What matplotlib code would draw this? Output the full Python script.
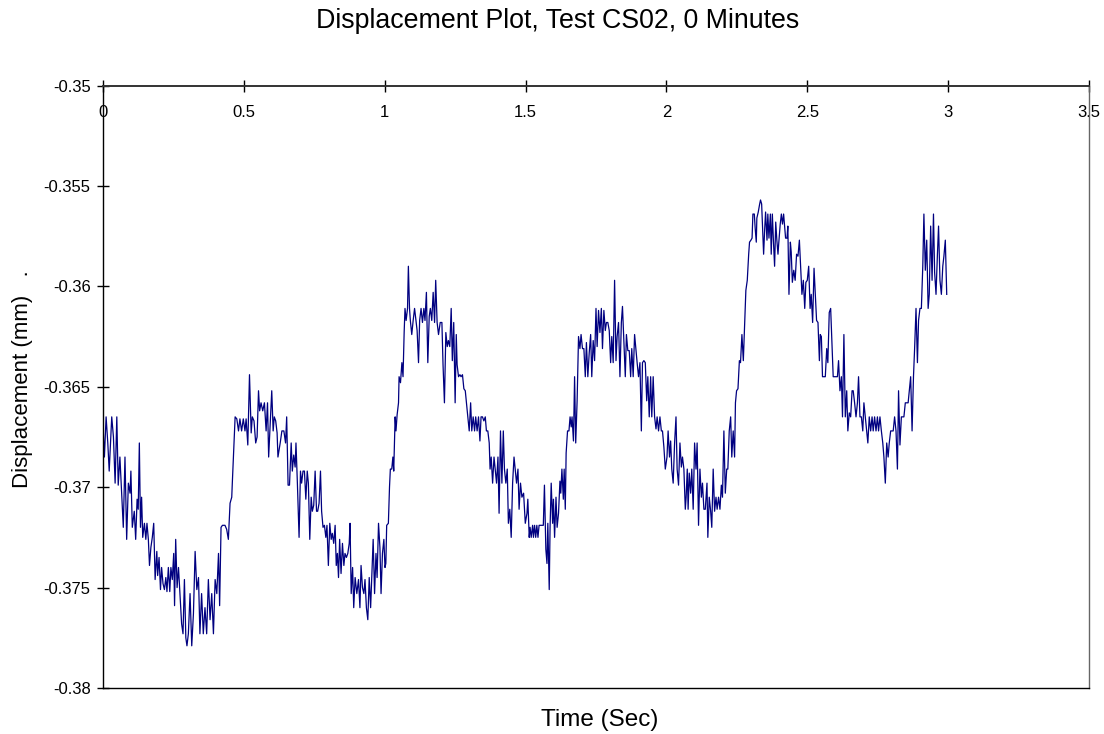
import matplotlib
matplotlib.use("Agg")
import matplotlib.pyplot as plt
from matplotlib.ticker import FuncFormatter, MultipleLocator

plt.rcParams["font.family"] = ["Liberation Sans", "DejaVu Sans"]

# displacement trace, test CS02 at 0 minutes
time_s = [
    0.001, 0.005, 0.011, 0.017, 0.022, 0.031, 0.037, 0.043, 0.049, 0.054,
    0.060, 0.066, 0.072, 0.078, 0.084, 0.090, 0.096, 0.099, 0.104, 0.111,
    0.116, 0.121, 0.125, 0.129, 0.133, 0.137, 0.141, 0.147, 0.152, 0.156,
    0.161, 0.165, 0.170, 0.175, 0.180, 0.185, 0.191, 0.194, 0.199, 0.204,
    0.208, 0.213, 0.218, 0.223, 0.227, 0.232, 0.237, 0.241, 0.246, 0.251,
    0.254, 0.258, 0.263, 0.268, 0.273, 0.279, 0.284, 0.289, 0.294, 0.298,
    0.303, 0.309, 0.315, 0.321, 0.327, 0.333, 0.339, 0.344, 0.350, 0.356,
    0.362, 0.368, 0.374, 0.380, 0.386, 0.392, 0.398, 0.404, 0.410, 0.414,
    0.419, 0.424, 0.433, 0.439, 0.445, 0.451, 0.457, 0.459, 0.466, 0.469,
    0.475, 0.481, 0.486, 0.492, 0.498, 0.504,
    0.508, 0.514, 0.520, 0.526, 0.530, 0.536, 0.542, 0.547, 0.552, 0.556,
    0.561, 0.567, 0.573, 0.579, 0.584, 0.588, 0.594, 0.599, 0.604, 0.608,
    0.613, 0.618, 0.621, 0.629, 0.635, 0.642, 0.648, 0.652, 0.657, 0.662,
    0.668, 0.672, 0.677, 0.682, 0.685, 0.690, 0.696, 0.701, 0.705, 0.710,
    0.715, 0.720, 0.725, 0.729, 0.734, 0.739, 0.743, 0.748, 0.753, 0.758,
    0.762, 0.767, 0.772, 0.776, 0.781, 0.786, 0.791, 0.795, 0.800, 0.805,
    0.810, 0.814, 0.819, 0.824, 0.828, 0.832, 0.836, 0.840, 0.845, 0.850,
    0.855, 0.859, 0.864, 0.869, 0.874, 0.877, 0.881, 0.886, 0.890, 0.895,
    0.901, 0.907, 0.912, 0.916, 0.921, 0.926, 0.930, 0.935, 0.940, 0.945,
    0.950, 0.954, 0.959, 0.964, 0.969, 0.973, 0.978, 0.983, 0.987, 0.992,
    0.997, 1.001,
    1.004, 1.007, 1.013, 1.017, 1.020, 1.025, 1.029, 1.032, 1.037, 1.040,
    1.044, 1.049, 1.051, 1.056, 1.061, 1.065, 1.069, 1.072, 1.076, 1.081,
    1.084, 1.088, 1.091, 1.096, 1.101, 1.106, 1.110, 1.115, 1.120, 1.124,
    1.129, 1.134, 1.139, 1.143, 1.148, 1.153, 1.158, 1.162, 1.167, 1.172,
    1.177, 1.181, 1.186, 1.191, 1.197, 1.203, 1.207, 1.212, 1.217, 1.222,
    1.226, 1.231, 1.236, 1.240, 1.245, 1.250, 1.254, 1.257, 1.262, 1.267,
    1.271, 1.276, 1.281, 1.286, 1.290, 1.295, 1.300, 1.305, 1.309, 1.314,
    1.319, 1.323, 1.328, 1.333, 1.338, 1.342, 1.347, 1.352, 1.357, 1.361,
    1.366, 1.371, 1.374, 1.378, 1.383, 1.388, 1.392, 1.397, 1.402, 1.406,
    1.411, 1.416, 1.421, 1.425, 1.430, 1.435, 1.439, 1.444, 1.449, 1.454,
    1.459, 1.463, 1.468, 1.473, 1.477, 1.482, 1.487, 1.493, 1.499,
    1.505, 1.508, 1.513, 1.516, 1.520, 1.525, 1.528, 1.532, 1.536, 1.540,
    1.544, 1.548, 1.553, 1.558, 1.563, 1.567, 1.572, 1.576, 1.579, 1.584,
    1.587, 1.591, 1.596, 1.599, 1.603, 1.608, 1.612, 1.617, 1.622, 1.625,
    1.629, 1.634, 1.637, 1.641, 1.644, 1.649, 1.654, 1.658, 1.662, 1.665,
    1.670, 1.674, 1.678, 1.683, 1.688, 1.693, 1.697, 1.702, 1.707, 1.712,
    1.716, 1.721, 1.726, 1.731, 1.735, 1.740, 1.745, 1.750, 1.754, 1.759,
    1.764, 1.769, 1.773, 1.778, 1.783, 1.787, 1.792, 1.797, 1.802, 1.806,
    1.811, 1.816, 1.821, 1.825, 1.830, 1.835, 1.840, 1.844, 1.849, 1.854,
    1.858, 1.863, 1.868, 1.873, 1.877, 1.882, 1.887, 1.892, 1.896, 1.901,
    1.906, 1.911, 1.915, 1.920, 1.925, 1.930, 1.934, 1.939, 1.944, 1.948,
    1.953, 1.958, 1.963, 1.967, 1.972, 1.977, 1.982, 1.986, 1.991, 1.996,
    2.002, 2.006, 2.011, 2.015, 2.019, 2.024, 2.029, 2.034, 2.038, 2.043,
    2.048, 2.053, 2.057, 2.062, 2.067, 2.070, 2.074, 2.077, 2.081, 2.086,
    2.090, 2.095, 2.100, 2.105, 2.109, 2.114, 2.119, 2.124, 2.128, 2.133,
    2.138, 2.144, 2.147, 2.152, 2.157, 2.161, 2.166, 2.171, 2.176, 2.180,
    2.185, 2.190, 2.195, 2.199, 2.204, 2.209, 2.214, 2.218, 2.223, 2.228,
    2.232, 2.237, 2.242, 2.245, 2.249, 2.254, 2.259, 2.263, 2.268, 2.273,
    2.278, 2.282, 2.287,
    2.292, 2.295, 2.300, 2.304, 2.307, 2.312, 2.315, 2.319, 2.321, 2.326,
    2.331, 2.334, 2.338, 2.341, 2.345, 2.349, 2.352, 2.357, 2.360, 2.364,
    2.369, 2.372, 2.376, 2.380, 2.384, 2.388, 2.392, 2.396, 2.399, 2.404,
    2.408, 2.412, 2.416, 2.420, 2.423, 2.428, 2.431, 2.435, 2.440, 2.443,
    2.447, 2.452,
    2.457, 2.462, 2.467, 2.472, 2.476, 2.481, 2.486, 2.491, 2.495, 2.500,
    2.505, 2.510, 2.514, 2.519, 2.524, 2.528, 2.533, 2.538, 2.543, 2.546,
    2.550, 2.554, 2.559, 2.564, 2.569, 2.573, 2.578, 2.583, 2.588, 2.592,
    2.597, 2.602, 2.607, 2.611, 2.616, 2.621, 2.625, 2.630, 2.635, 2.640,
    2.644, 2.649, 2.654, 2.659, 2.663, 2.668, 2.673, 2.678, 2.682, 2.687,
    2.692, 2.697, 2.701, 2.706, 2.711, 2.715, 2.720, 2.725, 2.730, 2.734,
    2.739, 2.744, 2.749, 2.753, 2.758, 2.763, 2.768, 2.772, 2.777, 2.782,
    2.787, 2.791, 2.796, 2.801, 2.805, 2.810, 2.815, 2.820, 2.824, 2.829,
    2.834, 2.839, 2.843, 2.848, 2.853, 2.858, 2.862, 2.867, 2.872, 2.877,
    2.881, 2.886, 2.891, 2.895, 2.900, 2.905, 2.910, 2.914, 2.919, 2.924,
    2.929, 2.933, 2.938, 2.943, 2.948, 2.952, 2.957, 2.962, 2.966, 2.971,
    2.976, 2.981, 2.985, 2.990, 2.995,
]

disp_mm = [
    -0.3672, -0.3685, -0.3665, -0.3678, -0.3692, -0.3665, -0.3675, -0.3698, -0.3665, -0.3699,
    -0.3685, -0.3703, -0.3720, -0.3685, -0.3726, -0.3698, -0.3703, -0.3692, -0.3720, -0.3712,
    -0.3726, -0.3706, -0.3711, -0.3678, -0.3720, -0.3705, -0.3725, -0.3718, -0.3726, -0.3718,
    -0.3726, -0.3739, -0.3730, -0.3725, -0.3718, -0.3746, -0.3732, -0.3744, -0.3735, -0.3751,
    -0.3740, -0.3748, -0.3751, -0.3745, -0.3752, -0.3740, -0.3752, -0.3740, -0.3746, -0.3733,
    -0.3759, -0.3726, -0.3750, -0.3740, -0.3753, -0.3768, -0.3773, -0.3746, -0.3775, -0.3779,
    -0.3773, -0.3753, -0.3779, -0.3763, -0.3732, -0.3751, -0.3745, -0.3773, -0.3753, -0.3773,
    -0.3760, -0.3773, -0.3746, -0.3766, -0.3753, -0.3773, -0.3746, -0.3753, -0.3733, -0.3759,
    -0.3720, -0.3719, -0.3719, -0.3721, -0.3726, -0.3708, -0.3705, -0.3698, -0.3675, -0.3665,
    -0.3666, -0.3672, -0.3666, -0.3672, -0.3666, -0.3672,
    -0.3666, -0.3679, -0.3644, -0.3673, -0.3665, -0.3667, -0.3678, -0.3675, -0.3652, -0.3662,
    -0.3658, -0.3662, -0.3658, -0.3672, -0.3658, -0.3685, -0.3667, -0.3652, -0.3672, -0.3665,
    -0.3667, -0.3673, -0.3685, -0.3678, -0.3672, -0.3672, -0.3678, -0.3665, -0.3699, -0.3699,
    -0.3678, -0.3692, -0.3684, -0.3690, -0.3678, -0.3698, -0.3725, -0.3692, -0.3698, -0.3692,
    -0.3692, -0.3706, -0.3692, -0.3698, -0.3726, -0.3705, -0.3712, -0.3709, -0.3692, -0.3712,
    -0.3712, -0.3708, -0.3692, -0.3712, -0.3720, -0.3719, -0.3725, -0.3719, -0.3739, -0.3718,
    -0.3726, -0.3723, -0.3728, -0.3719, -0.3739, -0.3733, -0.3745, -0.3726, -0.3743, -0.3728,
    -0.3739, -0.3733, -0.3735, -0.3733, -0.3728, -0.3718, -0.3753, -0.3740, -0.3760, -0.3745,
    -0.3753, -0.3746, -0.3760, -0.3739, -0.3750, -0.3753, -0.3746, -0.3760, -0.3766, -0.3745,
    -0.3760, -0.3745, -0.3726, -0.3753, -0.3733, -0.3745, -0.3718, -0.3730, -0.3753, -0.3733,
    -0.3726, -0.3740,
    -0.3738, -0.3719, -0.3718, -0.3700, -0.3691, -0.3691, -0.3685, -0.3692, -0.3665, -0.3672,
    -0.3664, -0.3658, -0.3645, -0.3648, -0.3638, -0.3645, -0.3623, -0.3611, -0.3617, -0.3611,
    -0.3590, -0.3611, -0.3617, -0.3624, -0.3617, -0.3611, -0.3616, -0.3622, -0.3638, -0.3617,
    -0.3611, -0.3618, -0.3611, -0.3617, -0.3603, -0.3638, -0.3615, -0.3611, -0.3617, -0.3603,
    -0.3618, -0.3597, -0.3618, -0.3624, -0.3618, -0.3618, -0.3639, -0.3658, -0.3623, -0.3630,
    -0.3627, -0.3630, -0.3611, -0.3637, -0.3618, -0.3658, -0.3624, -0.3639, -0.3645, -0.3644,
    -0.3645, -0.3644, -0.3651, -0.3652, -0.3658, -0.3665, -0.3672, -0.3658, -0.3672, -0.3665,
    -0.3672, -0.3665, -0.3672, -0.3665, -0.3677, -0.3665, -0.3665, -0.3667, -0.3665, -0.3672,
    -0.3672, -0.3678, -0.3691, -0.3685, -0.3698, -0.3685, -0.3691, -0.3698, -0.3685, -0.3713,
    -0.3672, -0.3698, -0.3672, -0.3691, -0.3698, -0.3691, -0.3718, -0.3711, -0.3725, -0.3698,
    -0.3685, -0.3691, -0.3698, -0.3691, -0.3711, -0.3698, -0.3705, -0.3703, -0.3718,
    -0.3713, -0.3706, -0.3725, -0.3720, -0.3725, -0.3719, -0.3725, -0.3719, -0.3725, -0.3719,
    -0.3725, -0.3719, -0.3719, -0.3719, -0.3719, -0.3699, -0.3731, -0.3738, -0.3718, -0.3751,
    -0.3720, -0.3698, -0.3718, -0.3706, -0.3725, -0.3705, -0.3720, -0.3713, -0.3697, -0.3703,
    -0.3691, -0.3706, -0.3691, -0.3711, -0.3683, -0.3672, -0.3672, -0.3665, -0.3670, -0.3665,
    -0.3677, -0.3645, -0.3678, -0.3657, -0.3625, -0.3631, -0.3624, -0.3631, -0.3631, -0.3645,
    -0.3628, -0.3645, -0.3633, -0.3624, -0.3645, -0.3627, -0.3637, -0.3611, -0.3630, -0.3612,
    -0.3623, -0.3611, -0.3631, -0.3612, -0.3622, -0.3618, -0.3618, -0.3622, -0.3638, -0.3625,
    -0.3638, -0.3597, -0.3637, -0.3625, -0.3618, -0.3645, -0.3618, -0.3610, -0.3628, -0.3645,
    -0.3624, -0.3632, -0.3632, -0.3645, -0.3631, -0.3645, -0.3624, -0.3632, -0.3638, -0.3645,
    -0.3638, -0.3672, -0.3638, -0.3637, -0.3638, -0.3657, -0.3645, -0.3665, -0.3645, -0.3665,
    -0.3645, -0.3665, -0.3671, -0.3665, -0.3672, -0.3665, -0.3672, -0.3672, -0.3680, -0.3691,
    -0.3685, -0.3672, -0.3685, -0.3677, -0.3691, -0.3698, -0.3678, -0.3665, -0.3691, -0.3699,
    -0.3678, -0.3690, -0.3685, -0.3691, -0.3711, -0.3705, -0.3691, -0.3711, -0.3693, -0.3703,
    -0.3691, -0.3711, -0.3678, -0.3691, -0.3678, -0.3719, -0.3691, -0.3705, -0.3698, -0.3711,
    -0.3711, -0.3698, -0.3725, -0.3705, -0.3712, -0.3720, -0.3691, -0.3712, -0.3705, -0.3711,
    -0.3705, -0.3711, -0.3699, -0.3705, -0.3672, -0.3703, -0.3691, -0.3691, -0.3672, -0.3665,
    -0.3685, -0.3672, -0.3685, -0.3658, -0.3652, -0.3651, -0.3637, -0.3638, -0.3624, -0.3637,
    -0.3618, -0.3602, -0.3597,
    -0.3584, -0.3578, -0.3577, -0.3576, -0.3564, -0.3564, -0.3571, -0.3578, -0.3566, -0.3563,
    -0.3559, -0.3557, -0.3559, -0.3570, -0.3584, -0.3571, -0.3563, -0.3577, -0.3564, -0.3576,
    -0.3564, -0.3584, -0.3564, -0.3578, -0.3590, -0.3568, -0.3577, -0.3584, -0.3578, -0.3569,
    -0.3564, -0.3569, -0.3564, -0.3571, -0.3576, -0.3576, -0.3570, -0.3604, -0.3578, -0.3583,
    -0.3598, -0.3592,
    -0.3597, -0.3584, -0.3585, -0.3577, -0.3589, -0.3604, -0.3597, -0.3611, -0.3598, -0.3597,
    -0.3590, -0.3611, -0.3604, -0.3618, -0.3591, -0.3603, -0.3617, -0.3618, -0.3637, -0.3624,
    -0.3625, -0.3645, -0.3645, -0.3645, -0.3631, -0.3638, -0.3613, -0.3611, -0.3630, -0.3645,
    -0.3645, -0.3645, -0.3645, -0.3637, -0.3652, -0.3645, -0.3665, -0.3624, -0.3665, -0.3652,
    -0.3672, -0.3663, -0.3665, -0.3652, -0.3652, -0.3658, -0.3665, -0.3658, -0.3645, -0.3665,
    -0.3665, -0.3672, -0.3658, -0.3665, -0.3672, -0.3678, -0.3665, -0.3672, -0.3665, -0.3672,
    -0.3665, -0.3672, -0.3665, -0.3672, -0.3665, -0.3672, -0.3678, -0.3685, -0.3698, -0.3678,
    -0.3685, -0.3678, -0.3672, -0.3672, -0.3672, -0.3665, -0.3672, -0.3691, -0.3652, -0.3679,
    -0.3665, -0.3665, -0.3665, -0.3658, -0.3658, -0.3658, -0.3652, -0.3645, -0.3672, -0.3645,
    -0.3631, -0.3611, -0.3638, -0.3617, -0.3611, -0.3611, -0.3590, -0.3564, -0.3592, -0.3577,
    -0.3611, -0.3604, -0.3570, -0.3597, -0.3564, -0.3593, -0.3604, -0.3584, -0.3570, -0.3597,
    -0.3604, -0.3590, -0.3585, -0.3577, -0.3604,
]

x_ticks = [0, 0.5, 1, 1.5, 2, 2.5, 3, 3.5]


def general(v, pos=None):
    return f"{v:g}"


fig = plt.figure(figsize=(11.04, 7.34), dpi=100)
ax = fig.add_axes([0.0933, 0.0627, 0.8931, 0.8208])

ax.plot(time_s, disp_mm, color="#000080", lw=0.9)

ax.set_xlim(0, 3.5)
ax.set_ylim(-0.38, -0.35)
ax.set_xticks(x_ticks)
ax.yaxis.set_major_locator(MultipleLocator(0.005))
ax.xaxis.set_major_formatter(FuncFormatter(general))
ax.yaxis.set_major_formatter(FuncFormatter(general))

# x axis crosses at the top of the range, labels hang below it
ax.spines["bottom"].set_position(("data", -0.35))
ax.spines["top"].set_position(("data", -0.38))
for s in ax.spines.values():
    s.set_color("black")
    s.set_linewidth(1.0)
ax.spines["bottom"].set_linewidth(1.4)
ax.spines["bottom"].set_color("#333333")
ax.spines["right"].set_color("#666666")

ax.tick_params(axis="both", direction="inout", length=8, width=1.0, labelsize=12)
ax.tick_params(axis="x", pad=10)
ax.tick_params(axis="y", pad=5)

fig.text(0.505, 0.972, "Displacement Plot, Test CS02, 0 Minutes",
         ha="center", va="center", fontsize=19.3)
fig.text(0.5435, 0.019, "Time (Sec)", ha="center", va="center", fontsize=17.5)
fig.text(0.020, 0.483, "Displacement (mm)   .", ha="center", va="center",
         rotation=90, fontsize=16)

fig.savefig("out.png", dpi=100)
